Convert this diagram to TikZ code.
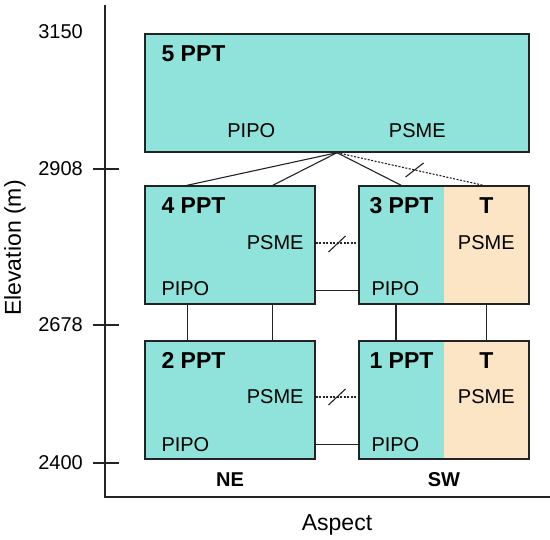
\documentclass[tikz,border=0pt]{standalone}
\usepackage{fontspec}
\setmainfont{Liberation Sans}
\usepackage{tikz}
\usetikzlibrary{calc,positioning}
\usepackage{xcolor}
\definecolor{pptteal}{RGB}{143,227,218}
\definecolor{tpeach}{RGB}{252,229,196}
\definecolor{edgegray}{RGB}{35,35,35}
\tikzstyle{pptbox} = [rectangle, draw=edgegray, line width=1.4pt, fill=pptteal, minimum width=170pt, minimum height=118pt, inner sep=0pt]
\tikzstyle{tsplit} = [path picture={\fill[tpeach] ($(path picture bounding box.north west)!0.5!(path picture bounding box.north east)$) rectangle (path picture bounding box.south east);}]
\tikzstyle{boxlabel} = [inner sep=0pt, font=\bfseries\fontsize{23}{23}\selectfont]
\tikzstyle{species} = [inner sep=0pt, font=\fontsize{20}{20}\selectfont]
\tikzstyle{link} = [line width=1.1pt, color=edgegray]
\tikzstyle{lost} = [link, dash pattern=on 2pt off 1.5pt]
\tikzstyle{ticklabel} = [inner sep=0pt, anchor=east, font=\fontsize{20}{20}\selectfont]

\begin{document}
\begin{tikzpicture}[x=1pt, y=-1pt]
\useasboundingbox (0,0) rectangle (550,540);

% axes
\draw[link] (105,5) -- (105,497) -- (550,497);
\foreach \yy/\elev in {169/2908, 325/2678, 463/2400}{
  \draw[link] (93,\yy) -- (119,\yy);
  \node[ticklabel] (tick\elev) at (83,\yy) {\elev};
}
\node[ticklabel] (tick3150) at (83,32) {3150};
\node[rotate=90, font=\fontsize{23}{23}\selectfont] (ylab) at (15,248) {Elevation (m)};
\node[anchor=base, font=\fontsize{23}{23}\selectfont] (xlab) at (337,531) {Aspect};

% boxes
\node[pptbox, minimum width=384pt] (ppt5) at (337,93) {};
\node[pptbox] (ppt4) at (230,245) {};
\node[pptbox, tsplit] (ppt3) at (444,245) {};
\node[pptbox] (ppt2) at (230,400) {};
\node[pptbox, tsplit] (ppt1) at (444,400) {};

% labels in the boxes
\node[boxlabel, anchor=base west] (lab5) at ($(ppt5.north west)+(17,28)$) {5 PPT};
\node[species, anchor=base] (pipo5) at ($(ppt5.south west)+(107,-15)$) {PIPO};
\node[species, anchor=base] (psme5) at ($(ppt5.south west)+(273,-15)$) {PSME};

\node[boxlabel, anchor=base west] (lab4) at ($(ppt4.north west)+(17,28)$) {4 PPT};
\node[species, anchor=base east] (psme4) at ($(ppt4.east)+(-12,5)$) {PSME};
\node[species, anchor=base west] (pipo4) at ($(ppt4.south west)+(17,-9)$) {PIPO};

\node[boxlabel, anchor=base west] (lab3) at ($(ppt3.north west)+(11,28)$) {3 PPT};
\node[boxlabel, anchor=base] (t3) at ($(ppt3.north west)+(128,28)$) {T};
\node[species, anchor=base] (psme3) at ($(ppt3.west)+(128,5)$) {PSME};
\node[species, anchor=base west] (pipo3) at ($(ppt3.south west)+(13,-9)$) {PIPO};

\node[boxlabel, anchor=base west] (lab2) at ($(ppt2.north west)+(17,28)$) {2 PPT};
\node[species, anchor=base east] (psme2) at ($(ppt2.east)+(-12,4)$) {PSME};
\node[species, anchor=base west] (pipo2) at ($(ppt2.south west)+(17,-8)$) {PIPO};

\node[boxlabel, anchor=base west] (lab1) at ($(ppt1.north west)+(11,28)$) {1 PPT};
\node[boxlabel, anchor=base] (t1) at ($(ppt1.north west)+(128,28)$) {T};
\node[species, anchor=base] (psme1) at ($(ppt1.west)+(128,4)$) {PSME};
\node[species, anchor=base west] (pipo1) at ($(ppt1.south west)+(13,-8)$) {PIPO};

\node[boxlabel, anchor=base, font=\bfseries\fontsize{20}{20}\selectfont] (ne) at (230,487) {NE};
\node[boxlabel, anchor=base, font=\bfseries\fontsize{20}{20}\selectfont] (sw) at (444,487) {SW};

% links from 5 PPT
\draw[link] (ppt5.south) -- ($(ppt4.north west)!0.25!(ppt4.north east)$);
\draw[link] (ppt5.south) -- ($(ppt4.north west)!0.75!(ppt4.north east)$);
\draw[link] (ppt5.south) -- ($(ppt3.north west)!0.25!(ppt3.north east)$);
\draw[lost] (ppt5.south) -- ($(ppt3.north west)!0.73!(ppt3.north east)$);
\coordinate (cut5) at ($(ppt5.south)!0.53!($(ppt3.north west)!0.73!(ppt3.north east)$)$);
\draw[link] ($(cut5)+(-9,7)$) -- ($(cut5)+(9,-7)$);

% links across the aspect
\draw[lost] ($(ppt4.east)+(0,-2)$) -- ($(ppt3.west)+(0,-2)$);
\coordinate (cut43) at ($(ppt4.east)!0.5!(ppt3.west)+(0,-1)$);
\draw[link] ($(cut43)+(-8.5,8)$) -- ($(cut43)+(8.5,-8)$);
\draw[link] ($(ppt4.south east)+(0,-14)$) -- ($(ppt3.south west)+(0,-14)$);

\draw[lost] ($(ppt2.east)+(0,-3)$) -- ($(ppt1.west)+(0,-3)$);
\coordinate (cut21) at ($(ppt2.east)!0.5!(ppt1.west)+(0,-3)$);
\draw[link] ($(cut21)+(-8.5,8)$) -- ($(cut21)+(8.5,-8)$);
\draw[link] ($(ppt2.south east)+(0,-15)$) -- ($(ppt1.south west)+(0,-15)$);

% links down the elevation
\draw[link] ($(ppt4.south west)!0.25!(ppt4.south east)$) -- ($(ppt2.north west)!0.25!(ppt2.north east)$);
\draw[link] ($(ppt4.south west)!0.75!(ppt4.south east)$) -- ($(ppt2.north west)!0.75!(ppt2.north east)$);
\draw[link] ($(ppt3.south west)!0.22!(ppt3.south east)$) -- ($(ppt1.north west)!0.22!(ppt1.north east)$);
\draw[link] ($(ppt3.south west)!0.75!(ppt3.south east)$) -- ($(ppt1.north west)!0.75!(ppt1.north east)$);
\end{tikzpicture}
\end{document}
